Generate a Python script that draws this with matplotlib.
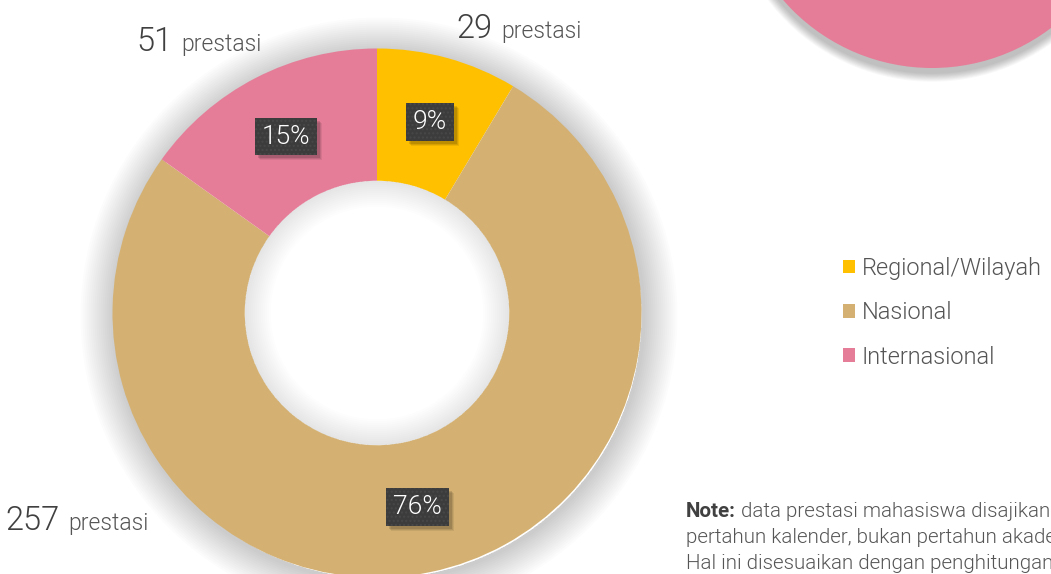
import matplotlib.pyplot as plt
from matplotlib.patches import Wedge, Circle, Rectangle

plt.rcParams['font.family'] = ['Roboto', 'DejaVu Sans']

categories = ['Regional/Wilayah', 'Nasional', 'Internasional']
counts = [29, 257, 51]
colors = ['#FFC000', '#D4B172', '#E57D98']
count_word = 'prestasi'

note_bold = 'Note:'
note_lines = [' data prestasi mahasiswa disajikan',
              'pertahun kalender, bukan pertahun akademik.',
              'Hal ini disesuaikan dengan penghitungan']

W, H = 1051, 574
fig = plt.figure(figsize=(W / 100, H / 100), dpi=100)
ax = fig.add_axes([0, 0, 1, 1])

# donut geometry in pixels (y measured from the bottom)
cx, cy, R = 377, H - 313, 264.5
hole = 0.5

# soft glow behind the donut
for d in range(2, 36, 2):
    ax.add_patch(Wedge((cx + 2, cy - 3), R + d, 0, 360, width=d + 2,
                       facecolor='black', alpha=0.011, lw=0, zorder=1))

wedges, texts, autotexts = ax.pie(
    counts, colors=colors, startangle=90, counterclock=False,
    center=(cx, cy), radius=R, autopct='%1.0f%%', pctdistance=0.75,
    wedgeprops=dict(width=R * hole, linewidth=0),
    textprops=dict(color='white', fontsize=19, fontweight=300))
for w in wedges:
    w.set_zorder(2)

# inner shadow of the hole
for d in range(2, 28, 2):
    ax.add_patch(Wedge((cx, cy), R * hole, 0, 360, width=d,
                       facecolor='black', alpha=0.008, lw=0, zorder=3))

# dark tag behind each percentage
for t in autotexts:
    t.set_zorder(6)
    t.set_bbox(dict(boxstyle='square,pad=0.26', fc='#3c3c3c', ec='#484848',
                    lw=0, hatch='....'))

ax.set_xlim(0, W)
ax.set_ylim(0, H)
ax.axis('off')

# drop shadow for the tags, taken from where the tags ended up
fig.canvas.draw()
for t in autotexts:
    bb = t.get_bbox_patch().get_window_extent()
    for k, a in [(5, 0.07), (4, 0.09), (3, 0.12)]:
        ax.add_patch(Rectangle((bb.x0 + k, bb.y0 - k), bb.width, bb.height,
                               facecolor='black', alpha=a, lw=0, zorder=5))

# count labels outside the ring: split point between number and word, baseline
label_pos = [(497, H - 38), (64, H - 530), (177, H - 51)]
for (x, y), n in zip(label_pos, counts):
    ax.text(x - 4, y, str(n), fontsize=23.5, fontweight=300, color='#404040',
            ha='right', va='baseline', zorder=6)
    ax.text(x + 4, y, count_word, fontsize=16.5, fontweight=300,
            color='#555555', ha='left', va='baseline', zorder=6)

# pink bubble in the top right corner
for d in range(1, 12):
    ax.add_patch(Circle((932, H + 129 - 5), 197 + d * 0.8, facecolor='black',
                        alpha=0.022, lw=0, zorder=1))
ax.add_patch(Circle((932, H + 129), 197, facecolor='#E57D98', lw=0, zorder=2))

leg = ax.legend(wedges, categories, loc='upper left',
                bbox_to_anchor=(843, H - 257), bbox_transform=ax.transData,
                frameon=False, fontsize=17, handlelength=0.5, handleheight=0.5,
                handletextpad=0.3, labelspacing=0.9, borderpad=0,
                borderaxespad=0)
for t in leg.get_texts():
    t.set_color('#555555')
    t.set_fontweight(300)

# note at the bottom right
nb = ax.text(686, H - 517, note_bold, fontsize=14.8, fontweight='bold',
             color='#404040', ha='left', va='baseline', zorder=6)
ax.annotate(note_lines[0], xy=(1, 0), xycoords=nb, fontsize=14.8,
            fontweight=300, color='#555555', ha='left', va='bottom',
            annotation_clip=False)
for i, line in enumerate(note_lines[1:]):
    ax.text(686, H - 543 - 26 * i, line, fontsize=14.8, fontweight=300,
            color='#555555', ha='left', va='baseline', zorder=6)

ax.set_xlim(0, W)
ax.set_ylim(0, H)

fig.savefig('out.png', dpi=100)
